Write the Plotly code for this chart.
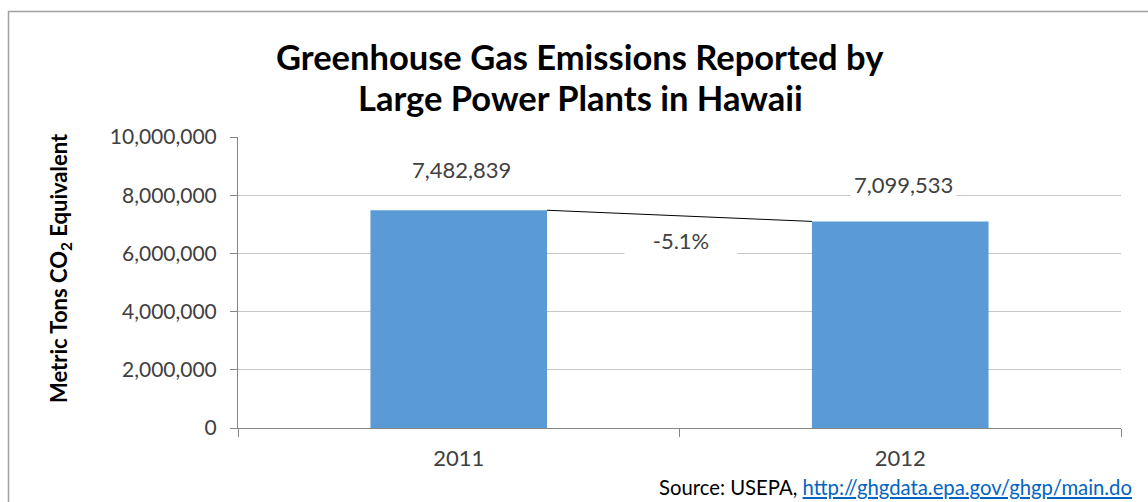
import plotly.graph_objects as go

years = ["2011", "2012"]
emissions = [7482839, 7099533]
y_tick_vals = [0, 2000000, 4000000, 6000000, 8000000, 10000000]
y_tick_text = ["0", "2,000,000", "4,000,000", "6,000,000", "8,000,000", "10,000,000"]
title_lines = ["Greenhouse Gas Emissions Reported by", "Large Power Plants in Hawaii"]
y_title = "Metric Tons CO<sub>2</sub> Equivalent"
source_prefix = "Source: USEPA, "
source_url = "http://ghgdata.epa.gov/ghgp/main.do"

W, H = 1148, 502
L, R, T, B = 238, 27, 137, 74
PW, PH = W - L - R, H - T - B

def px2x(px):
    return (px - L) / PW

def px2y(py):
    return (H - B - py) / PH

FONT = "Lato, 'Open Sans', sans-serif"
TXT = "#404040"
BAR_W = 0.4

pct = (emissions[1] - emissions[0]) / emissions[0] * 100

fig = go.Figure()
fig.add_trace(go.Bar(
    x=years, y=emissions, width=BAR_W,
    marker=dict(color="#5b9bd5", line=dict(width=0)),
    hoverinfo="skip",
))

shapes = [
    # connector line between bar tops
    dict(type="line", xref="x", yref="y",
         x0=0 + BAR_W / 2, y0=emissions[0], x1=1 - BAR_W / 2, y1=emissions[1],
         line=dict(color="#000000", width=1), layer="above"),
    # outer frame (left and top)
    dict(type="line", xref="paper", yref="paper",
         x0=px2x(8.5), x1=px2x(8.5), y0=px2y(11), y1=px2y(510),
         line=dict(color="#a0a0a0", width=1.5)),
    dict(type="line", xref="paper", yref="paper",
         x0=px2x(8), x1=px2x(1160), y0=px2y(11.5), y1=px2y(11.5),
         line=dict(color="#a0a0a0", width=1.5)),
]

annotations = [
    dict(text="<b>" + title_lines[0] + "</b>", xref="paper", yref="paper",
         x=px2x(580), y=px2y(56), showarrow=False,
         font=dict(family=FONT, size=34.5, color="#000000"), xanchor="center", yanchor="middle"),
    dict(text="<b>" + title_lines[1] + "</b>", xref="paper", yref="paper",
         x=px2x(580), y=px2y(97), showarrow=False,
         font=dict(family=FONT, size=34.5, color="#000000"), xanchor="center", yanchor="middle"),
    dict(text="<b>" + y_title + "</b>", xref="paper", yref="paper",
         x=px2x(60), y=px2y(268), showarrow=False, textangle=-90,
         font=dict(family=FONT, size=22, color="#000000"), xanchor="center", yanchor="middle"),
    dict(text=source_prefix + "<a href='" + source_url + "'><span style='color:#0563c1;text-decoration:underline'>"
         + source_url + "</span></a>",
         xref="paper", yref="paper", x=px2x(1134), y=px2y(487), showarrow=False,
         font=dict(family=FONT, size=20.3, color="#000000"), xanchor="right", yanchor="middle"),
    dict(text=f"{pct:.1f}%", xref="paper", yref="y",
         x=px2x(681), y=(emissions[0] + emissions[1]) / 2, yshift=-24, showarrow=False,
         width=110, height=34, bgcolor="#ffffff",
         font=dict(family=FONT, size=22, color=TXT), xanchor="center", yanchor="middle"),
]
label_shift = [41, 37]
for i, (v, s) in enumerate(zip(emissions, label_shift)):
    annotations.append(dict(
        text=f"{v:,}", x=i, y=v, xref="x", yref="y", yshift=s, xshift=3, showarrow=False,
        bgcolor="#ffffff", borderpad=3,
        font=dict(family=FONT, size=22, color=TXT), xanchor="center", yanchor="middle"))

fig.update_layout(
    width=W, height=H,
    margin=dict(l=L, r=R, t=T, b=B, pad=0),
    paper_bgcolor="#ffffff", plot_bgcolor="#ffffff",
    showlegend=False, bargap=0.6,
    font=dict(family=FONT, color=TXT),
    shapes=shapes, annotations=annotations,
    xaxis=dict(
        type="category", range=[-0.5, 1.5], autorange=False,
        categoryorder="array", categoryarray=years,
        showline=True, linecolor="#868686", linewidth=1,
        ticks="outside", tickson="boundaries", ticklen=8, tickcolor="#868686",
        tickfont=dict(family=FONT, size=22, color=TXT), showgrid=False,
        tickangle=0, ticklabelstandoff=11,
    ),
    yaxis=dict(
        range=[0, 10000000], autorange=False, tickvals=y_tick_vals, ticktext=y_tick_text,
        showline=True, linecolor="#868686", linewidth=1,
        ticks="outside", ticklen=7, tickcolor="#868686",
        tickfont=dict(family=FONT, size=21, color=TXT),
        showgrid=True, gridcolor="#c6c6c6", gridwidth=1, zeroline=False,
        ticklabelstandoff=9,
    ),
)

fig.write_html("out.html")
